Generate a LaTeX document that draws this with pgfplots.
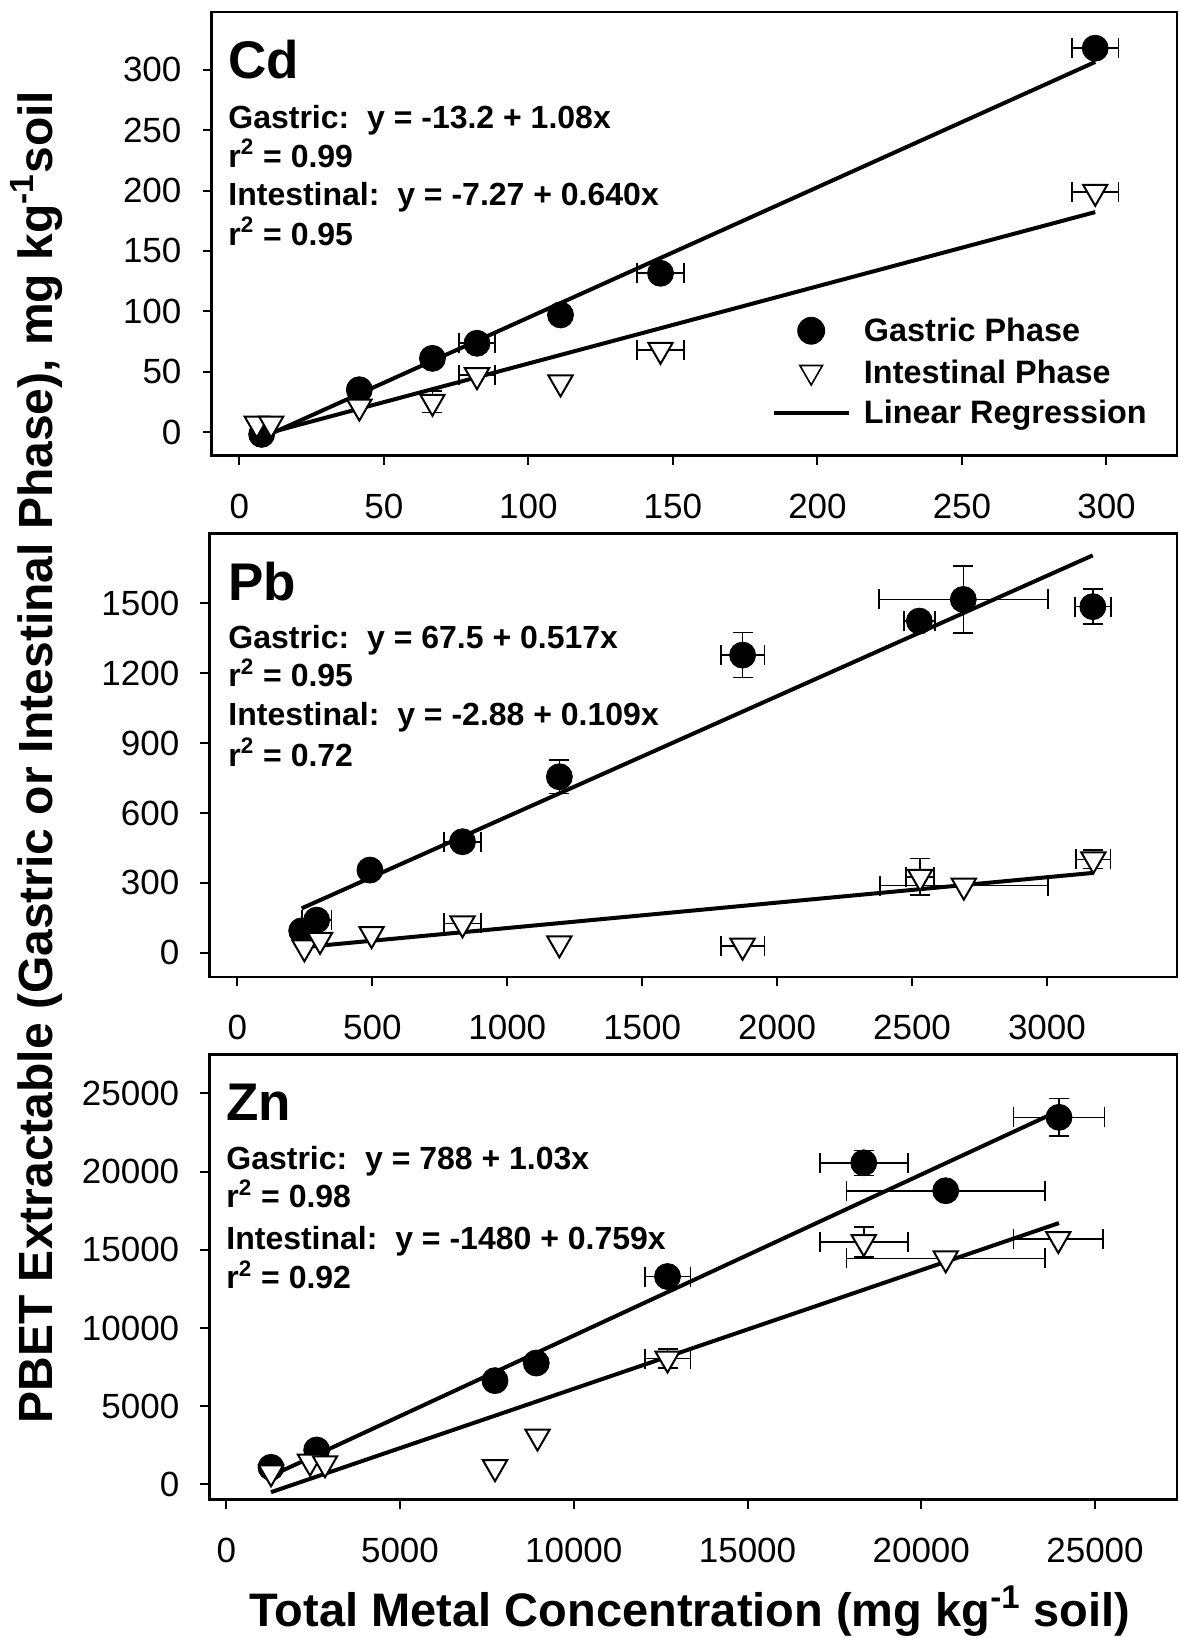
\documentclass[border=0pt]{standalone}
\usepackage{fontspec}
\setmainfont{Liberation Sans}
\usepackage{pgfplots}
\pgfplotsset{compat=1.18}

% layout grid: 1 unit = 0.5pt
\pgfplotsset{
  metalpanel/.style={
    scale only axis,
    axis line style={line width=1.2pt, black},
    tick pos=left,
    tick align=outside,
    major tick length=4.5pt,
    every tick/.style={black, line width=1pt},
    scaled ticks=false,
    ticklabel style={font=\fontsize{17.5}{20}\selectfont},
    /pgf/number format/assume math mode=true,
    /pgf/number format/set thousands separator={},
    xticklabel style={yshift=-11pt},
    yticklabel style={xshift=-7pt},
  },
  gastric/.style={only marks, mark=*, mark size=6.5pt, mark options={fill=black, draw=black}},
  intestinal/.style={only marks, mark=triangle*, mark size=7pt,
    mark options={rotate=180, fill=white, draw=black, line width=1pt}},
  regline/.style={no marks, line width=2pt, black},
  errcommon/.style={only marks, mark=none, black,
    error bars/error bar style={line width=0.8pt, black},
    error bars/error mark=none},
  xerr/.style={errcommon,
    error bars/x dir=both, error bars/x explicit, error bars/y dir=none},
  yerr/.style={errcommon,
    error bars/y dir=both, error bars/y explicit, error bars/x dir=none},
  % end caps of the error bars
  xcap/.style={only marks, mark=|, mark size=5pt, mark options={black, line width=0.8pt}},
  ycap/.style={only marks, mark=-, mark size=5pt, mark options={black, line width=0.8pt}},
}

\begin{document}
\begin{tikzpicture}
\useasboundingbox (0pt,0pt) rectangle (589.5pt,-819pt);

% ---------------- Cd ----------------
\begin{axis}[metalpanel,
  at={(105.75pt,-6pt)}, anchor=north west,
  width=482.75pt, height=221.75pt,
  xmin=-9.65, xmax=324.4, ymin=-19.5, ymax=348,
  xtick={0,50,...,300}, ytick={0,50,...,300},
  legend cell align=left,
  legend style={draw=none, fill=none, inner sep=0pt, outer sep=0pt,
    at={(0.5802,0.3118)}, anchor=north west, row sep=7.4pt,
    font=\bfseries\fontsize{16.2}{19}\selectfont,
    nodes={inner sep=0pt, text height=12pt, text depth=1pt},
    /tikz/every odd column/.append style={column sep=6.65pt}},
]
\addlegendimage{legend image code/.code={
  \path (0pt,0pt) (37.5pt,0pt);
  \draw[black, mark=*, mark size=6.75pt] plot coordinates {(18.75pt,0pt)};}}
\addlegendentry{Gastric Phase}
\addlegendimage{legend image code/.code={
  \path (0pt,0pt) (37.5pt,0pt);
  \draw[black, mark=triangle*, mark size=6.5pt,
    mark options={rotate=180, fill=white, line width=0.8pt}] plot coordinates {(18.75pt,0pt)};}}
\addlegendentry{Intestinal Phase}
\addlegendimage{legend image code/.code={
  \draw[black, line width=2pt] (0pt,0pt) -- (37.5pt,0pt);}}
\addlegendentry{Linear Regression}

\addplot[forget plot, xerr] coordinates {
  (82.2,73.5) +- (6.2,0) (145.7,131.5) +- (8.1,0) (296.1,318) +- (8.1,0)
  (82.2,47) +- (6.2,0) (145.7,68) +- (8.1,0) (296.1,199) +- (8.1,0)};
\addplot[forget plot, xcap] coordinates {
  (76.0,73.5) (88.4,73.5) (137.6,131.5) (153.8,131.5) (288.0,318) (304.2,318)
  (76.0,47) (88.4,47) (137.6,68) (153.8,68) (288.0,199) (304.2,199)};
\addplot[forget plot, yerr] coordinates {(66.8,25) +- (0,9)};
\addplot[forget plot, ycap] coordinates {(66.8,16) (66.8,34)};
\addplot[forget plot, gastric] coordinates {
  (7.7,-2) (41.5,35) (66.8,61) (82.2,73.5) (111.1,97) (145.7,131.5) (296.1,318)};
\addplot[forget plot, intestinal] coordinates {
  (6,7) (11,7) (41.5,21) (66.8,25) (82.2,47) (111.1,41) (145.7,68) (296.1,199)};
\addplot[forget plot, regline] coordinates {(7.7,-4.9) (296.1,306.6)};
\addplot[forget plot, regline] coordinates {(7.7,-2.34) (296.1,182.2)};
\end{axis}

% ---------------- Pb ----------------
\begin{axis}[metalpanel,
  at={(104.7pt,-266.65pt)}, anchor=north west,
  width=483.8pt, height=221.7pt,
  xmin=-104, xmax=3482, ymin=-103, ymax=1801,
  xtick={0,500,...,3000}, ytick={0,300,...,1500},
]
\addplot[xerr] coordinates {
  (293.5,140) +- (55,0) (834,476.6) +- (69.5,0) (1872,1278) +- (81,0)
  (2527,1424) +- (57.5,0) (2690,1517) +- (313,0) (3170,1486) +- (67,0)
  (834,126) +- (69.5,0) (1872,30) +- (81,0) (2530,326) +- (52,0)
  (2692,288) +- (311,0) (3172,401) +- (64,0)};
\addplot[xcap] coordinates {
  (238.5,140) (348.5,140) (764.5,476.6) (903.5,476.6) (1791,1278) (1953,1278)
  (2469.5,1424) (2584.5,1424) (2377,1517) (3003,1517) (3103,1486) (3237,1486)
  (764.5,126) (903.5,126) (1791,30) (1953,30) (2478,326) (2582,326)
  (2381,288) (3003,288) (3108,401) (3236,401)};
\addplot[yerr] coordinates {
  (1193,755.7) +- (0,71.5) (1872,1278) +- (0,96.5) (2690,1517) +- (0,143)
  (3170,1486) +- (0,75) (2530,326) +- (0,78.5) (3172,401) +- (0,40)};
\addplot[ycap] coordinates {
  (1193,684.2) (1193,827.2) (1872,1181.5) (1872,1374.5) (2690,1374) (2690,1660)
  (3170,1411) (3170,1561) (2530,247.5) (2530,404.5) (3172,361) (3172,441)};
\addplot[gastric] coordinates {
  (238,94) (293.5,140) (491,355) (834,476.6) (1193,755.7) (1872,1278)
  (2527,1424) (2690,1517) (3170,1486)};
\addplot[intestinal] coordinates {
  (248,23) (306,55) (497,80) (834,126) (1193,40) (1872,30)
  (2530,326) (2692,288) (3172,401)};
\addplot[regline] coordinates {(238,190.5) (3170,1706.4)};
\addplot[regline] coordinates {(248,24.1) (3172,342.9)};
\end{axis}

% ---------------- Zn ----------------
\begin{axis}[metalpanel,
  at={(104.65pt,-527.25pt)}, anchor=north west,
  width=483.85pt, height=222.5pt,
  xmin=-488, xmax=27360, ymin=-972, ymax=27488,
  xtick={0,5000,...,25000}, ytick={0,5000,...,25000},
]
\addplot[xerr] coordinates {
  (12698,13290) +- (656,0) (18345,20562) +- (1266,0) (20704,18777) +- (2851,0)
  (23964,23472) +- (1305,0) (12698,8045) +- (656,0) (18345,15490) +- (1266,0)
  (20704,14450) +- (2851,0) (23944,15688) +- (1286,0)};
\addplot[xcap] coordinates {
  (12042,13290) (13354,13290) (17079,20562) (19611,20562) (17853,18777) (23555,18777)
  (22659,23472) (25269,23472) (12042,8045) (13354,8045) (17079,15490) (19611,15490)
  (17853,14450) (23555,14450) (22658,15688) (25230,15688)};
\addplot[yerr] coordinates {
  (18345,20562) +- (0,800) (23964,23472) +- (0,1205)
  (12698,8045) +- (0,600) (18345,15490) +- (0,970)};
\addplot[ycap] coordinates {
  (18345,19762) (18345,21362) (23964,22267) (23964,24677)
  (12698,7445) (12698,8645) (18345,14520) (18345,16460)};
\addplot[gastric] coordinates {
  (1288,1087) (2602,2194) (7734,6632) (8921,7758) (12698,13290)
  (18345,20562) (20704,18777) (23964,23472)};
\addplot[intestinal] coordinates {
  (1288,767) (2410,1449) (2842,1343) (7734,1094) (8957,3051)
  (12698,8045) (18345,15490) (20704,14450) (23944,15688)};
\addplot[regline] coordinates {(1288,539) (23964,23895)};
\addplot[regline] coordinates {(1288,-502.4) (23964,16708.7)};
\end{axis}

% ---------------- panel annotations ----------------
\begin{scope}[every node/.style={anchor=base west, inner sep=0pt}]
  \node[font=\bfseries\fontsize{26.5}{30}\selectfont] at (114pt,-39pt) {Cd};
  \node[font=\bfseries\fontsize{16}{19}\selectfont] at (114pt,-64pt) {Gastric:\ \ y = -13.2 + 1.08x};
  \node[font=\bfseries\fontsize{16}{19}\selectfont] at (114pt,-83.5pt) {r\textsuperscript{2} = 0.99};
  \node[font=\bfseries\fontsize{16}{19}\selectfont] at (114pt,-102.5pt) {Intestinal:\ \ y = -7.27 + 0.640x};
  \node[font=\bfseries\fontsize{16}{19}\selectfont] at (114pt,-122.5pt) {r\textsuperscript{2} = 0.95};

  \node[font=\bfseries\fontsize{26.5}{30}\selectfont] at (114pt,-300pt) {Pb};
  \node[font=\bfseries\fontsize{16}{19}\selectfont] at (114pt,-324.15pt) {Gastric:\ \ y = 67.5 + 0.517x};
  \node[font=\bfseries\fontsize{16}{19}\selectfont] at (114pt,-343.35pt) {r\textsuperscript{2} = 0.95};
  \node[font=\bfseries\fontsize{16}{19}\selectfont] at (114pt,-362.5pt) {Intestinal:\ \ y = -2.88 + 0.109x};
  \node[font=\bfseries\fontsize{16}{19}\selectfont] at (114pt,-383pt) {r\textsuperscript{2} = 0.72};

  \node[font=\bfseries\fontsize{26.5}{30}\selectfont] at (113pt,-560.45pt) {Zn};
  \node[font=\bfseries\fontsize{16}{19}\selectfont] at (113pt,-584.85pt) {Gastric:\ \ y = 788 + 1.03x};
  \node[font=\bfseries\fontsize{16}{19}\selectfont] at (113pt,-603.9pt) {r\textsuperscript{2} = 0.98};
  \node[font=\bfseries\fontsize{16}{19}\selectfont] at (113pt,-624.5pt) {Intestinal:\ \ y = -1480 + 0.759x};
  \node[font=\bfseries\fontsize{16}{19}\selectfont] at (113pt,-644.35pt) {r\textsuperscript{2} = 0.92};
\end{scope}

% ---------------- shared axis titles ----------------
\node[rotate=90, anchor=base, inner sep=0pt, font=\bfseries\fontsize{24}{28}\selectfont]
  at (26pt,-378.5pt) {PBET Extractable (Gastric or Intestinal Phase), mg kg\textsuperscript{-1}soil};
\node[anchor=base, inner sep=0pt, font=\bfseries\fontsize{23.5}{28}\selectfont]
  at (345pt,-813.3pt) {Total Metal Concentration (mg kg\textsuperscript{-1} soil)};
\end{tikzpicture}
\end{document}
